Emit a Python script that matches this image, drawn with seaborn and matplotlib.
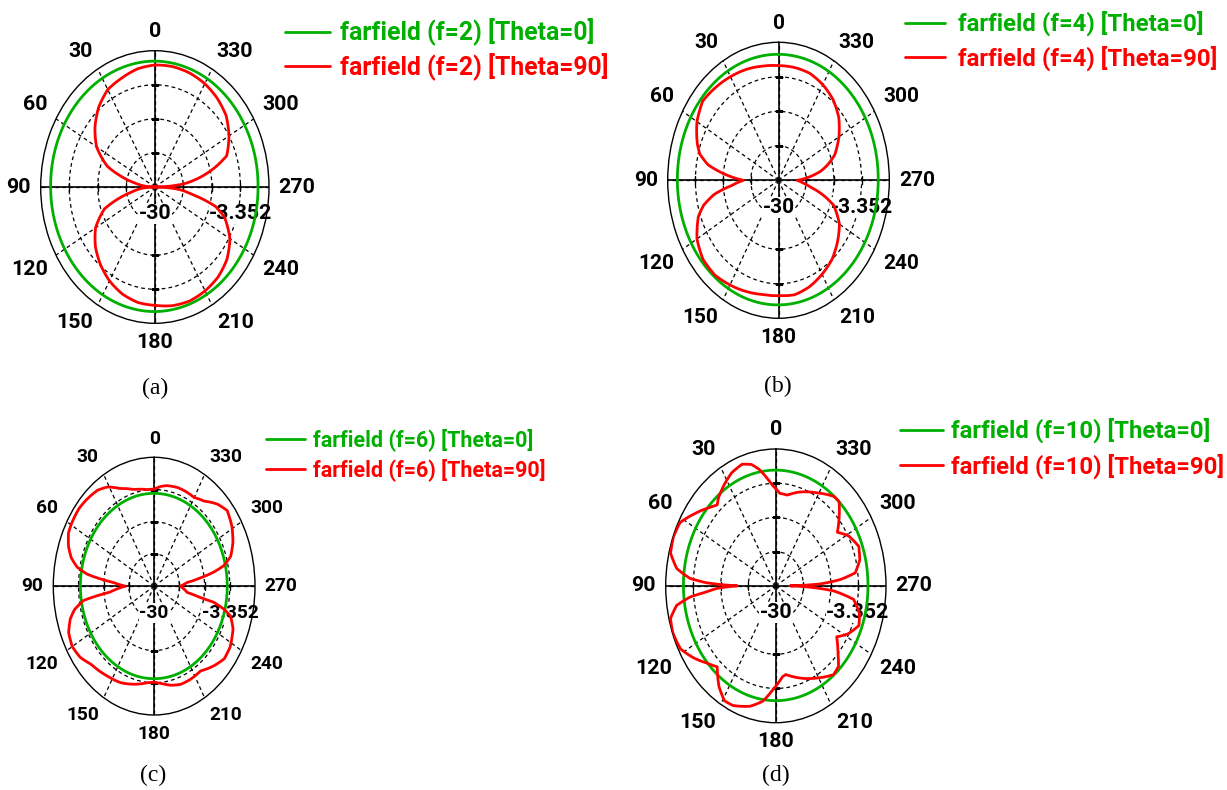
import numpy as np
import matplotlib
matplotlib.use("Agg")
import matplotlib.pyplot as plt
import seaborn as sns

# ---------------- data (dB values) ----------------
R_MIN, R_MAX = -30.0, -3.352
ring_values = [-23.338, -16.676, -10.014]
angle_ticks = [0, 30, 60, 90, 120, 150, 180, 210, 240, 270, 300, 330]
green_theta = [0, 30, 60, 90, 120, 150, 180, 210, 240, 270, 300, 330]

freqs = ["2", "4", "6", "10"]
captions = ["(a)", "(b)", "(c)", "(d)"]

a_green_db = [-5.38, -5.45, -5.55, -5.67, -5.70, -5.65, -5.64, -5.75, -5.85, -5.91, -5.80, -5.55]
a_red_theta = [0, 10, 20, 30, 40, 50, 60, 70, 75, 80, 85, 90,
               95, 100, 105, 110, 120, 130, 140, 150, 160, 170, 180,
               190, 200, 210, 220, 230, 240, 250, 255, 260, 265, 270,
               275, 280, 285, 290, 300, 310, 320, 330, 340, 350]
a_red_db = [-6.15, -6.55, -7.35, -8.01, -9.61, -11.75, -14.28, -18.22, -21.74, -24.94, -27.34, -30.0,
            -26.80, -24.67, -21.21, -17.48, -14.01, -11.88, -10.23, -8.81, -7.75, -7.08, -6.87,
            -6.44, -6.28, -6.55, -7.03, -8.01, -9.75, -12.68, -15.34, -20.67, -24.14, -30.0,
            -23.34, -19.34, -15.61, -12.15, -10.01, -8.28, -7.35, -6.68, -6.28, -6.10]

b_green_db = [-5.67, -5.62, -5.62, -5.67, -5.75, -5.85, -5.94, -6.00, -6.02, -6.02, -5.90, -5.75]
b_red_theta = [0, 10, 20, 30, 40, 50, 60, 70, 75, 80, 85, 90,
               95, 100, 105, 110, 120, 130, 140, 150, 160, 170, 180,
               190, 200, 210, 220, 230, 240, 250, 255, 260, 265, 270,
               275, 280, 285, 290, 295, 300, 305, 310, 320, 330, 340, 350]
b_red_db = [-7.86, -7.62, -7.22, -6.90, -6.55, -6.20, -7.35, -9.21, -10.41, -12.81, -17.21, -21.55,
            -18.81, -14.28, -11.35, -9.48, -7.35, -6.28, -6.15, -6.66, -7.16, -7.62, -7.72,
            -7.56, -8.15, -9.05, -10.01, -11.48, -13.08, -15.88, -18.81, -22.01, -24.14, -25.47,
            -22.54, -19.61, -17.48, -15.61, -14.44, -13.21, -12.15, -11.08, -9.61, -8.68, -8.01, -7.88]

c_green_db = [-10.81, -10.75, -10.60, -10.49, -10.60, -10.80, -10.87, -10.80, -10.70, -10.68, -10.72, -10.80]
c_red_theta = [0, 5, 15, 24, 31, 37, 45, 51, 59, 64, 70, 75, 79, 82, 84, 86, 90,
               96, 97.5, 99, 103, 107, 113, 120, 127, 134, 146, 156, 165, 175, 180,
               185, 192, 199, 206, 215, 224, 231, 238, 247, 253, 255.5, 258, 259, 261.5, 270,
               275, 278, 280.5, 283, 287, 293.5, 301, 309, 315.5, 323, 330, 336, 343, 351, 355]
c_red_db = [-9.93, -9.96, -9.32, -7.91, -6.07, -5.16, -4.71, -4.47, -4.60, -4.82, -5.91, -7.32, -9.24, -12.09, -15.72, -19.29, -22.41,
            -18.35, -14.78, -11.13, -8.39, -6.82, -5.46, -5.00, -5.54, -6.79, -7.64, -8.15, -9.00, -9.96, -10.17,
            -9.83, -9.05, -8.52, -8.47, -8.60, -7.16, -6.15, -6.31, -7.35, -8.89, -10.95, -13.85, -17.53, -21.15, -23.07,
            -21.23, -17.61, -13.93, -11.08, -8.84, -7.30, -6.02, -5.16, -6.20, -7.99, -8.84, -8.73, -8.68, -8.95, -9.29]

d_green_db = [-7.46, -7.50, -7.58, -7.64, -7.66, -7.66, -7.64, -7.66, -7.70, -7.72, -7.65, -7.55]
d_red_theta = [0, 2, 6, 10, 14, 19, 26, 33, 39, 42, 46, 55, 62, 69, 76, 82, 86, 88, 90,
               92, 94, 96, 99, 104, 110, 118, 125, 132, 138, 145, 151, 156, 165, 172, 178,
               185, 188, 198, 209, 219, 224, 229, 236, 242, 249, 255, 262, 266, 270,
               272, 274.5, 277.5, 284, 291, 299, 305, 313, 317, 321, 331, 344, 351, 357]
d_red_db = [-11.08, -10.57, -8.84, -7.00, -5.64, -4.95, -5.54, -6.79, -7.94, -8.79, -7.99, -5.70, -3.75, -3.45, -3.75, -5.80, -9.19, -13.29, -20.67,
            -15.69, -13.27, -9.11, -5.70, -3.73, -3.45, -3.86, -5.62, -7.54, -8.79, -6.02, -4.39, -4.50, -5.72, -7.32, -9.77,
            -12.20, -12.57, -11.13, -9.48, -7.78, -8.18, -10.09, -12.25, -10.15, -8.47, -9.05, -11.00, -16.01, -26.54,
            -19.26, -14.36, -10.63, -9.08, -8.52, -9.91, -11.83, -9.00, -7.56, -7.62, -9.32, -11.05, -12.12, -11.96]

green_sets = [a_green_db, b_green_db, c_green_db, d_green_db]
red_sets = [(a_red_theta, a_red_db), (b_red_theta, b_red_db),
            (c_red_theta, c_red_db), (d_red_theta, d_red_db)]

# ---------------- layout / style ----------------
W, H = 1227, 790
GREEN = "#00B000"
RED = "#FF0000"

# axes boxes in pixels: left, top, right, bottom
boxes = [(40.7, 50.7, 269.0, 323.3),
         (667.7, 42.3, 889.3, 318.3),
         (53.3, 457.3, 255.0, 715.0),
         (665.7, 449.0, 886.0, 722.7)]
tick_fs = [15.4, 15.0, 13.8, 15.4]
leg_fs = [17.8, 17.2, 15.5, 17.2]
leg_anchor = [(285, 18.5), (905, 11), (266, 428.5), (900, 418)]
leg_spacing = [0.28, 0.38, 0.33, 0.42]
leg_hlen = [1.82, 1.67, 1.81, 1.8]
leg_pad = [0.40, 0.54, 0.37, 0.33]
cap_pos = [(155, 388), (778, 386), (153, 775), (776, 775)]
label_gap_pt = 7.0

sns.set_theme(style="white")
plt.rcParams["font.family"] = ["Roboto", "DejaVu Sans"]

fig = plt.figure(figsize=(W / 100, H / 100), dpi=100)
fig.patch.set_facecolor("white")

dash = (0, (3, 2.5))

for i in range(4):
    l, t, r, b = boxes[i]
    ax = fig.add_axes([l / W, 1 - b / H, (r - l) / W, (b - t) / H], projection="polar")
    ax.set_aspect("auto")
    ax.set_facecolor("white")
    ax.set_theta_zero_location("N")
    ax.set_theta_direction(1)
    ax.set_rlim(R_MIN, R_MAX)
    ax.set_axisbelow(True)

    ax.set_xticks(np.deg2rad(angle_ticks))
    ax.set_xticklabels([])
    ax.set_yticks(ring_values)
    ax.set_yticklabels([])
    ax.grid(True, color="black", linestyle=dash, linewidth=0.9)
    ax.spines["polar"].set_color("black")
    ax.spines["polar"].set_linewidth(1.0)

    # angle labels just outside the outer ring
    for a in angle_ticks:
        s, c = np.sin(np.deg2rad(a)), np.cos(np.deg2rad(a))
        ha = "right" if s > 0.3 else ("left" if s < -0.3 else "center")
        va = "bottom" if c > 0.3 else ("top" if c < -0.3 else "center")
        ax.annotate(str(a), xy=(np.deg2rad(a), R_MAX),
                    xytext=(-s * label_gap_pt, c * label_gap_pt), textcoords="offset points",
                    ha=ha, va=va, fontsize=tick_fs[i], fontweight="bold", color="black",
                    annotation_clip=False)

    # solid cross-hair axes
    for th in (0, 90, 180, 270):
        ax.axvline(np.deg2rad(th), color="black", lw=1.2, zorder=1.5)
    for th, mk in ((90, "|"), (270, "|"), (0, "_"), (180, "_")):
        ax.plot(np.full(len(ring_values), np.deg2rad(th)), ring_values, ls="none",
                marker=mk, ms=6, mew=1.0, color="black", zorder=1.6)

    # curves
    gth = np.deg2rad(np.append(green_theta, green_theta[0] + 360))
    gr = np.clip(np.append(green_sets[i], green_sets[i][0]), R_MIN, R_MAX)
    sns.lineplot(x=gth, y=gr, ax=ax, color=GREEN, lw=2.0, sort=False, estimator=None,
                 label=f"farfield (f={freqs[i]}) [Theta=0]", zorder=3)
    rth_deg, rdb = red_sets[i]
    rth = np.deg2rad(np.append(rth_deg, rth_deg[0] + 360))
    rr = np.clip(np.append(rdb, rdb[0]), R_MIN, R_MAX)
    sns.lineplot(x=rth, y=rr, ax=ax, color=RED, lw=2.0, sort=False, estimator=None,
                 label=f"farfield (f={freqs[i]}) [Theta=90]", zorder=3.1)
    for ln in ax.lines[-2:]:
        ln.get_path()._interpolation_steps = 24
    ax.set_xlabel("")
    ax.set_ylabel("")

    # radial labels
    ax.annotate("-30", xy=(0, R_MIN), xytext=(0, -19.4), textcoords="offset points",
                ha="center", va="center", fontsize=tick_fs[i], fontweight="bold",
                color="black", zorder=2,
                bbox=dict(fc="white", ec="none", pad=0.6))
    ax.annotate("-3.352", xy=(np.deg2rad(270), R_MAX), xytext=(2.5, -19.4),
                textcoords="offset points", ha="right", va="center",
                fontsize=tick_fs[i], fontweight="bold", color="black", zorder=2,
                annotation_clip=False, bbox=dict(fc="white", ec="none", pad=0.3))

    lx, ly = leg_anchor[i]
    ax.legend(loc="upper left", bbox_to_anchor=(lx / W, 1 - ly / H),
              bbox_transform=fig.transFigure, frameon=False, borderpad=0,
              borderaxespad=0, labelcolor="linecolor",
              prop=dict(family=["Roboto", "DejaVu Sans"], weight="bold", size=leg_fs[i]),
              handlelength=leg_hlen[i], handletextpad=leg_pad[i],
              labelspacing=leg_spacing[i])

    cx, cy = cap_pos[i]
    fig.text(cx / W, 1 - cy / H, captions[i], ha="center", va="center",
             family=["Liberation Serif", "DejaVu Serif"], fontsize=17, color="black")

fig.savefig("out.png", dpi=100, facecolor="white")
